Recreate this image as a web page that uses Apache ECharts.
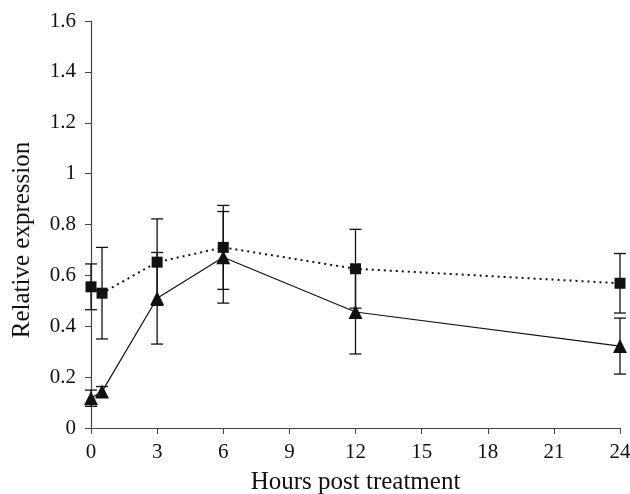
<!DOCTYPE html>
<html><head><meta charset="utf-8">
<script src="https://cdn.jsdelivr.net/npm/echarts@6/dist/echarts.min.js"></script>
<style>html,body{margin:0;padding:0;background:#fff}#c{width:630px;height:494px}</style>
</head><body><div id="c"></div>
<script>
const hours = [0, 0.5, 3, 6, 12, 24];
const squareValues = [0.555, 0.53, 0.652, 0.71, 0.626, 0.569];
const squareErrors = [0.09, 0.18, 0.17, 0.165, 0.155, 0.117];
const triangleValues = [0.117, 0.143, 0.51, 0.671, 0.456, 0.322];
const triangleErrors = [0.032, 0.02, 0.18, 0.18, 0.165, 0.11];
const xTicks = [0, 3, 6, 9, 12, 15, 18, 21, 24];
const yTicks = [0, 0.2, 0.4, 0.6, 0.8, 1, 1.2, 1.4, 1.6];
const xTitle = 'Hours post treatment';
const yTitle = 'Relative expression';

function errData(vals, errs) {
  return hours.map((h, i) => [h, vals[i] - errs[i], vals[i] + errs[i]]);
}
function errRender(params, api) {
  const x = api.value(0);
  const lo = api.coord([x, api.value(1)]);
  const hi = api.coord([x, api.value(2)]);
  const w = 6;
  const st = {stroke: '#111', lineWidth: 1.3};
  return {type: 'group', children: [
    {type: 'line', shape: {x1: lo[0], y1: lo[1], x2: hi[0], y2: hi[1]}, style: st},
    {type: 'line', shape: {x1: lo[0] - w, y1: lo[1], x2: lo[0] + w, y2: lo[1]}, style: st},
    {type: 'line', shape: {x1: hi[0] - w, y1: hi[1], x2: hi[0] + w, y2: hi[1]}, style: st}
  ]};
}
const font = 'Liberation Serif';
const chart = echarts.init(document.getElementById('c'));
chart.setOption({
  animation: false,
  grid: {left: 91, right: 10, top: 21, bottom: 66, containLabel: false, outerBoundsMode: 'none'},
  graphic: [{
    type: 'text', x: 22, y: 240, rotation: Math.PI / 2,
    style: {text: yTitle, font: '25px "Liberation Serif"', fill: '#111',
      textAlign: 'center', textVerticalAlign: 'middle'}
  }],
  xAxis: {
    type: 'value', min: 0, max: 24, interval: 3,
    name: xTitle, nameLocation: 'middle', nameGap: 42,
    nameTextStyle: {fontFamily: font, fontSize: 25, color: '#111'},
    axisLine: {lineStyle: {color: '#444', width: 1.2}},
    axisTick: {show: true, length: 6, lineStyle: {color: '#444'}},
    axisLabel: {fontFamily: font, fontSize: 21, color: '#111', margin: 14,
      customValues: xTicks},
    splitLine: {show: false}
  },
  yAxis: {
    type: 'value', min: 0, max: 1.6, interval: 0.2,
    axisLine: {show: true, lineStyle: {color: '#444', width: 1.2}},
    axisTick: {show: true, length: 6, lineStyle: {color: '#444'}},
    axisLabel: {fontFamily: font, fontSize: 21, color: '#111', margin: 15,
      formatter: v => String(yTicks.find(t => Math.abs(t - v) < 1e-9) ?? v)},
    splitLine: {show: false}
  },
  series: [
    {type: 'custom', renderItem: errRender, data: errData(squareValues, squareErrors), z: 1,
      encode: {x: 0, y: [1, 2]}},
    {type: 'custom', renderItem: errRender, data: errData(triangleValues, triangleErrors), z: 1,
      encode: {x: 0, y: [1, 2]}},
    {type: 'line', data: hours.map((h, i) => [h, squareValues[i]]),
      symbol: 'rect', symbolSize: 11, itemStyle: {color: '#111'},
      lineStyle: {color: '#111', width: 2, type: [2, 4]}, z: 3},
    {type: 'line', data: hours.map((h, i) => [h, triangleValues[i]]),
      symbol: 'triangle', symbolSize: 14, itemStyle: {color: '#111'},
      lineStyle: {color: '#111', width: 1.2, type: 'solid'}, z: 3}
  ]
});
</script></body></html>
